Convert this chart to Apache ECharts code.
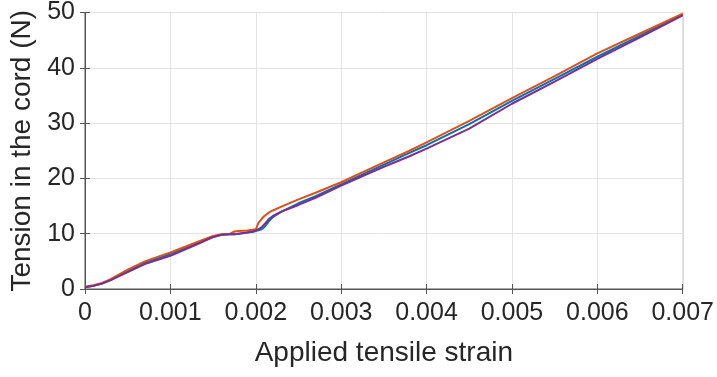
<!DOCTYPE html>
<html>
<head>
<meta charset="utf-8">
<script src="https://cdn.jsdelivr.net/npm/echarts@6/dist/echarts.min.js"></script>
<style>
  html, body { margin: 0; padding: 0; background: #fff; }
  #chart { width: 717px; height: 377px; }
</style>
</head>
<body>
<div id="chart"></div>
<script>
// applied strain (x) and tension (N) for the three cords
const strain = [0, 0.0001, 0.0002, 0.0003, 0.0005, 0.0007, 0.001, 0.0013, 0.0015, 0.0016, 0.0017, 0.00175, 0.0018, 0.0019, 0.00196, 0.002, 0.00203, 0.00207, 0.0021, 0.00215, 0.0022, 0.0023, 0.0025, 0.0027, 0.003, 0.0035, 0.0038, 0.004, 0.0045, 0.005, 0.0055, 0.006, 0.0065, 0.007]
const cordBlue = [0.3, 0.6, 1.0, 1.6, 3.2, 4.7, 6.3, 8.2, 9.4, 9.8, 9.9, 9.9, 10.0, 10.2, 10.3, 10.5, 10.6, 10.8, 11.2, 12.2, 13.0, 14.0, 15.5, 16.8, 18.9, 22.5, 24.6, 26.0, 29.8, 34.0, 38.0, 42.0, 45.8, 49.6]
const cordOrange = [0.4, 0.7, 1.1, 1.8, 3.5, 5.0, 6.6, 8.4, 9.6, 9.9, 10.0, 10.4, 10.5, 10.6, 10.7, 10.8, 11.9, 12.7, 13.2, 13.8, 14.2, 14.9, 16.2, 17.4, 19.3, 22.9, 25.0, 26.5, 30.4, 34.5, 38.5, 42.6, 46.2, 49.8]
const cordPurple = [0.3, 0.6, 1.0, 1.6, 3.05, 4.5, 6.0, 8.0, 9.4, 9.8, 9.9, 9.9, 10.0, 10.2, 10.4, 10.6, 10.8, 11.2, 11.7, 12.6, 13.2, 14.0, 15.2, 16.5, 18.7, 22.1, 24.0, 25.4, 29.0, 33.5, 37.5, 41.6, 45.5, 49.5]
const xTicks = [0, 0.001, 0.002, 0.003, 0.004, 0.005, 0.006, 0.007]
const yTicks = [0, 10, 20, 30, 40, 50]

const chart = echarts.init(document.getElementById('chart'))
const textColor = '#262626'
const fontFamily = 'Liberation Sans, Arial, sans-serif'

function pairs (ys) {
  return strain.map((x, i) => [x, ys[i]])
}

function lineSeries (name, ys, color) {
  return {
    name: name,
    type: 'line',
    data: pairs(ys),
    showSymbol: false,
    lineStyle: { color: color, width: 2 },
    itemStyle: { color: color },
    animation: false
  }
}

const option = {
  backgroundColor: '#fff',
  grid: {
    left: 85,
    right: 33,
    top: 6,
    bottom: 88,
    show: true,
    borderColor: '#555',
    borderWidth: 1
  },
  xAxis: [
    {
      type: 'value',
      min: xTicks[0],
      max: xTicks[xTicks.length - 1],
      interval: 0.001,
      name: 'Applied tensile strain',
      nameLocation: 'middle',
      nameGap: 50,
      nameTextStyle: { color: textColor, fontSize: 28, fontFamily: fontFamily },
      axisLine: { show: true, lineStyle: { color: '#555' } },
      axisTick: { show: true, inside: true, length: 5, lineStyle: { color: '#555' } },
      axisLabel: {
        color: textColor,
        fontSize: 25,
        fontFamily: fontFamily,
        margin: 12,
        formatter: v => (v === 0 ? '0' : v.toFixed(3))
      },
      splitLine: { show: true, lineStyle: { color: '#e3e3e3' } }
    },
    {
      type: 'value',
      position: 'top',
      min: xTicks[0],
      max: xTicks[xTicks.length - 1],
      interval: 0.001,
      axisLine: { show: true, lineStyle: { color: '#555' } },
      axisTick: { show: true, inside: true, length: 5, lineStyle: { color: '#555' } },
      axisLabel: { show: false },
      splitLine: { show: false }
    }
  ],
  yAxis: [
    {
      type: 'value',
      min: yTicks[0],
      max: yTicks[yTicks.length - 1],
      interval: 10,
      name: 'Tension in the cord (N)',
      nameLocation: 'middle',
      nameGap: 45,
      nameTextStyle: { color: textColor, fontSize: 28, fontFamily: fontFamily },
      axisLine: { show: true, lineStyle: { color: '#555' } },
      axisTick: { show: true, inside: true, length: 5, lineStyle: { color: '#555' } },
      axisLabel: { color: textColor, fontSize: 25, fontFamily: fontFamily, margin: 10 },
      splitLine: { show: true, lineStyle: { color: '#e3e3e3' } }
    },
    {
      type: 'value',
      position: 'right',
      min: yTicks[0],
      max: yTicks[yTicks.length - 1],
      interval: 10,
      axisLine: { show: true, lineStyle: { color: '#555' } },
      axisTick: { show: true, inside: true, length: 5, lineStyle: { color: '#555' } },
      axisLabel: { show: false },
      splitLine: { show: false }
    }
  ],
  series: [
    lineSeries('Cord 1', cordBlue, '#0072BD'),
    lineSeries('Cord 2', cordOrange, '#D95319'),
    lineSeries('Cord 3', cordPurple, '#7E2F8E')
  ]
}

chart.setOption(option)
</script>
</body>
</html>
